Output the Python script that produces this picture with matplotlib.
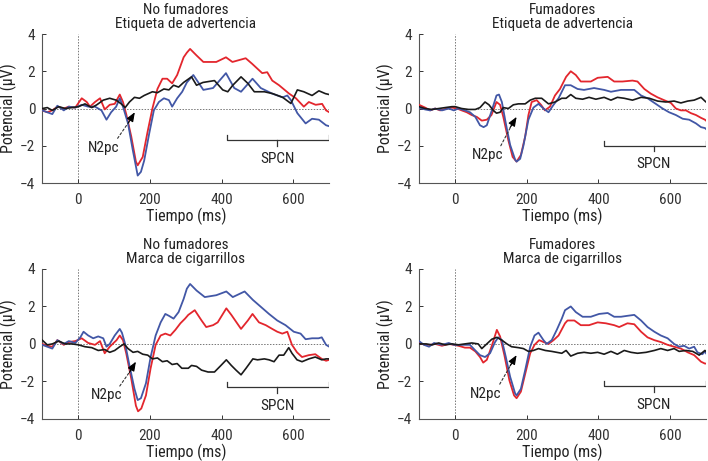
import matplotlib
matplotlib.use('Agg')
import matplotlib.pyplot as plt

plt.rcParams['font.family'] = ['Roboto Condensed', 'DejaVu Sans']

RED = '#e3262d'
BLUE = '#4257a6'
BLACK = '#1a1a1a'

# --- No fumadores / Etiqueta de advertencia ---
p1_red_t = [-100, -86, -72, -58, -40, -26, -8, 10, 24, 33, 47, 61, 74, 88, 102, 116, 125, 134, 148, 161, 166, 180,
            193, 207, 221, 235, 248, 262, 276, 294, 303, 312, 330, 349, 385, 412, 430, 467, 485, 513, 527, 541, 560,
            588, 607, 629, 643, 662, 680, 691, 700]
p1_red_v = [-0.1, -0.2, -0.1, 0.1, 0, 0.1, 0.05, 0.55, 0.35, 0.1, 0.35, 0.55, -0.05, 0.2, 0.25, 0.75, 0.35, -0.3,
            -1.5, -2.85, -3.05, -2.6, -1.3, 0, 1.05, 1.6, 1.6, 1.35, 1.8, 2.75, 3.0, 3.2, 2.85, 2.5, 2.5, 2.75, 2.5,
            2.7, 2.4, 1.9, 1.95, 1.5, 1.25, 0.8, 0.55, 0.1, 0.35, 0.2, 0.25, -0.1, -0.2]
p1_blue_t = [-100, -86, -72, -58, -40, -26, -8, 10, 28, 47, 65, 79, 92, 106, 116, 125, 139, 152, 166, 175, 184, 198,
             211, 225, 239, 253, 262, 276, 290, 303, 321, 349, 376, 412, 435, 454, 486, 509, 541, 570, 583, 593, 611,
             634, 652, 671, 691, 700]
p1_blue_v = [-0.1, -0.2, -0.3, 0.15, -0.1, 0.1, 0.05, 0.2, 0.1, 0.1, -0.1, -0.6, -0.2, 0.1, 0.55, 0.1, -0.8, -2.2,
             -3.6, -3.4, -2.8, -1.35, -0.1, 0.35, 0.55, 0.45, 0.1, 0.55, 0.9, 1.4, 1.8, 1.0, 1.1, 1.9, 1.1, 0.9, 1.6,
             1.1, 0.8, 0.6, 0.7, 0.45, -0.25, -0.8, -0.55, -0.6, -0.9, -0.95]
p1_black_t = [-100, -86, -72, -54, -36, -17, 1, 19, 38, 52, 70, 88, 106, 120, 131, 143, 157, 171, 184, 207, 221, 239,
              253, 266, 280, 294, 316, 330, 348, 380, 403, 417, 431, 454, 473, 491, 519, 542, 570, 593, 611, 629, 652,
              671, 689, 700]
p1_black_v = [0, 0.05, -0.1, 0.1, 0, 0.05, 0.1, 0.25, 0.05, 0.2, 0.45, 0.55, 0.45, 0.25, 0.05, 0.35, 0.6, 0.55, 0.7,
              0.9, 0.85, 1.05, 1.0, 1.25, 1.15, 1.4, 1.7, 1.25, 1.4, 1.5, 1.0, 0.9, 1.25, 1.7, 1.35, 0.9, 0.9, 0.8,
              0.6, 0.27, 1.0, 0.9, 0.7, 0.95, 0.8, 0.75]

# --- Fumadores / Etiqueta de advertencia ---
p2_red_t = [-100, -83, -69, -55, -41, -22, -8, 6, 19, 33, 47, 61, 75, 89, 102, 116, 126, 135, 149, 161, 172, 184,
            196, 205, 214, 228, 240, 251, 265, 279, 293, 310, 323, 337, 351, 379, 398, 426, 444, 467, 495, 509, 528,
            546, 565, 583, 602, 616, 630, 644, 658, 672, 686, 697, 700]
p2_red_v = [0.2, 0.05, -0.1, 0, -0.1, 0, 0.05, 0, -0.1, -0.2, -0.35, -0.45, -0.65, -0.6, -0.35, 0.35, 0.2, -0.45,
            -1.7, -2.6, -2.85, -2.5, -1.5, -0.35, 0.35, 0.45, 0.2, -0.1, 0.1, 0.7, 1.05, 1.7, 2.0, 1.8, 1.45, 1.45,
            1.65, 1.7, 1.45, 1.45, 1.5, 1.45, 1.05, 0.8, 0.6, 0.45, 0.3, 0, -0.1, -0.1, -0.25, -0.35, -0.5, -0.6,
            -0.65]
p2_blue_t = [-100, -83, -69, -55, -36, -17, -3, 10, 28, 42, 57, 70, 80, 89, 103, 116, 123, 131, 142, 154, 168, 172,
             182, 191, 205, 219, 233, 247, 261, 275, 289, 307, 323, 342, 360, 388, 416, 435, 463, 486, 500, 519, 537,
             560, 579, 597, 616, 635, 653, 672, 686, 697, 700]
p2_blue_v = [0.05, -0.05, -0.1, 0, -0.1, 0, -0.1, 0, -0.1, -0.2, -0.45, -0.9, -1.0, -0.9, -0.1, 0.7, 0.75, 0.35,
             -0.8, -1.95, -2.75, -2.85, -2.7, -2.0, -0.6, 0.05, 0.25, 0, -0.2, 0.2, 0.55, 1.25, 1.25, 1.05, 1.0, 1.1,
             1.0, 0.9, 1.0, 1.0, 1.0, 0.7, 0.55, 0.25, 0, -0.2, -0.35, -0.55, -0.6, -0.8, -1.0, -1.05, -1.1]
p2_black_t = [-100, -83, -64, -45, -27, -8, 1, 19, 38, 57, 70, 84, 95, 107, 116, 126, 135, 149, 163, 177, 196, 210,
              224, 242, 261, 279, 298, 310, 323, 337, 356, 374, 393, 416, 435, 453, 472, 495, 519, 542, 565, 588, 611,
              630, 649, 667, 686, 697, 700]
p2_black_v = [0.1, 0, -0.05, 0, 0.05, 0.1, 0.1, 0, -0.05, -0.05, 0.05, 0.35, 0.2, -0.1, -0.25, -0.2, 0.05, 0, 0.2,
              0.25, 0.25, 0.45, 0.55, 0.55, 0.25, 0.35, 0.55, 0.55, 0.75, 0.55, 0.5, 0.6, 0.5, 0.6, 0.45, 0.6, 0.55,
              0.45, 0.6, 0.55, 0.4, 0.35, 0.4, 0.3, 0.4, 0.45, 0.6, 0.4, 0.35]

# --- No fumadores / Marca de cigarrillos ---
p3_red_t = [-100, -86, -72, -58, -40, -26, -8, 10, 28, 47, 61, 74, 88, 107, 116, 125, 134, 148, 161, 167, 176, 189,
            202, 216, 230, 243, 257, 271, 285, 298, 307, 325, 344, 357, 376, 389, 413, 427, 454, 473, 486, 504, 523,
            541, 555, 569, 583, 596, 610, 624, 643, 661, 679, 691, 700]
p3_red_v = [0, -0.1, -0.15, 0.2, -0.05, 0.1, 0.15, 0.3, 0.05, -0.05, 0.15, -0.5, -0.15, 0.2, 0.45, 0.2, -0.5, -1.85,
            -3.3, -3.6, -3.45, -2.75, -1.3, -0.05, 0.45, 0.55, 0.45, 0.75, 1.1, 1.35, 1.55, 1.8, 1.25, 0.9, 1.0,
            1.15, 1.9, 1.55, 0.8, 1.25, 1.6, 1.15, 1.0, 0.8, 0.65, 0.55, 0.65, -0.05, -0.45, -0.7, -0.6, -0.55,
            -0.8, -0.9, -0.85]
p3_blue_t = [-100, -86, -72, -58, -40, -26, -8, 6, 15, 28, 42, 56, 70, 79, 88, 102, 116, 122, 131, 143, 157, 166, 175,
             189, 202, 216, 230, 243, 253, 266, 280, 294, 303, 312, 330, 353, 385, 413, 431, 464, 487, 514, 532, 555,
             578, 601, 620, 634, 652, 670, 679, 691, 700]
p3_blue_v = [-0.05, -0.15, -0.25, 0.2, 0, 0.15, 0.05, 0.35, 0.65, 0.45, 0.3, 0.4, 0.3, -0.15, 0, 0.45, 0.8, 0.6, 0,
             -1.15, -2.4, -3.0, -2.9, -2.1, -0.7, 0.45, 1.15, 1.6, 1.5, 1.35, 1.7, 2.4, 2.95, 3.2, 2.85, 2.5, 2.6,
             2.8, 2.5, 2.8, 2.35, 1.9, 1.6, 1.25, 1.0, 0.65, 0.55, 0.25, 0.3, 0.3, 0.35, -0.05, -0.15]
p3_black_t = [-100, -86, -72, -54, -36, -17, 1, 19, 38, 56, 74, 88, 102, 116, 128, 139, 153, 166, 180, 194, 207, 221,
              235, 248, 262, 276, 289, 307, 316, 330, 344, 362, 380, 398, 413, 427, 440, 454, 468, 487, 500, 519, 532,
              546, 560, 573, 587, 596, 610, 624, 643, 661, 679, 691, 700]
p3_black_v = [0.2, -0.05, 0, 0.15, 0, 0, -0.05, -0.15, -0.2, -0.35, -0.3, -0.45, -0.35, -0.15, 0, -0.25, -0.45, -0.4,
              -0.55, -0.6, -0.8, -0.75, -0.95, -0.9, -1.1, -1.05, -1.3, -1.3, -1.15, -1.2, -1.4, -1.5, -1.5, -1.15,
              -0.85, -1.15, -1.4, -1.65, -1.3, -0.8, -0.85, -0.8, -0.85, -0.95, -0.6, -0.6, -0.2, -0.5, -0.85, -0.95,
              -0.8, -0.7, -0.85, -0.8, -0.8]

# --- Fumadores / Marca de cigarrillos ---
p4_red_t = [-100, -83, -69, -55, -36, -17, -3, 10, 28, 42, 57, 70, 79, 89, 103, 117, 126, 138, 152, 165, 172, 184,
            196, 210, 222, 235, 247, 261, 275, 289, 307, 314, 333, 351, 374, 398, 421, 444, 458, 481, 500, 519, 537,
            556, 574, 593, 611, 630, 649, 667, 686, 697, 700]
p4_red_v = [0.05, -0.05, -0.05, 0, -0.1, 0, -0.05, -0.1, -0.2, -0.2, -0.4, -0.7, -1.0, -0.85, -0.1, 0.75, 0.4, -0.6,
            -1.95, -2.75, -2.9, -2.55, -1.6, -0.5, -0.05, 0.2, 0.1, 0, 0.2, 0.45, 1.1, 1.25, 1.25, 1.0, 1.0, 1.15,
            1.1, 1.0, 0.9, 1.1, 1.05, 0.65, 0.35, 0.2, 0.1, -0.05, -0.15, -0.25, -0.45, -0.6, -0.95, -1.05, -1.05]
p4_blue_t = [-100, -86, -72, -58, -36, -17, -3, 10, 28, 42, 57, 70, 84, 98, 112, 121, 131, 142, 154, 168, 172, 184,
             196, 210, 222, 233, 247, 256, 270, 284, 298, 307, 323, 337, 356, 379, 402, 426, 444, 463, 481, 500, 519,
             537, 556, 574, 593, 611, 625, 639, 653, 667, 676, 690, 697, 700]
p4_blue_v = [0.15, -0.05, -0.15, 0.05, -0.05, 0.05, -0.05, -0.05, -0.05, -0.05, -0.35, -0.6, -0.7, -0.5, 0.1, 0.35,
             0.2, -0.7, -1.75, -2.65, -2.75, -2.4, -1.4, -0.15, 0.45, 0.6, 0.2, 0, 0.2, 0.75, 1.35, 1.8, 2.0, 1.7,
             1.45, 1.45, 1.6, 1.65, 1.45, 1.45, 1.5, 1.55, 1.25, 0.9, 0.65, 0.45, 0.3, 0, -0.15, -0.1, -0.25, -0.15,
             -0.45, -0.55, -0.4, -0.5]
p4_black_t = [-100, -80, -64, -45, -27, -8, 10, 28, 47, 65, 75, 89, 103, 117, 131, 145, 158, 177, 191, 205, 219, 233,
              252, 270, 284, 298, 310, 323, 342, 360, 379, 398, 416, 435, 453, 472, 491, 509, 533, 556, 574, 593, 611,
              625, 644, 663, 681, 697, 700]
p4_black_v = [0, 0, -0.05, 0.05, -0.05, 0, -0.05, 0, 0.05, 0, -0.25, 0, 0.25, 0.35, 0.2, 0, -0.15, -0.2, -0.25, -0.4,
              -0.35, -0.25, -0.35, -0.4, -0.45, -0.5, -0.35, -0.65, -0.5, -0.45, -0.5, -0.45, -0.55, -0.4, -0.55,
              -0.35, -0.45, -0.5, -0.45, -0.35, -0.25, -0.35, -0.25, -0.4, -0.35, -0.4, -0.6, -0.35, -0.4]

titles = ['No fumadores\nEtiqueta de advertencia', 'Fumadores\nEtiqueta de advertencia',
          'No fumadores\nMarca de cigarrillos', 'Fumadores\nMarca de cigarrillos']
panels = [
    (p1_red_t, p1_red_v, p1_blue_t, p1_blue_v, p1_black_t, p1_black_v),
    (p2_red_t, p2_red_v, p2_blue_t, p2_blue_v, p2_black_t, p2_black_v),
    (p3_red_t, p3_red_v, p3_blue_t, p3_blue_v, p3_black_t, p3_black_v),
    (p4_red_t, p4_red_v, p4_blue_t, p4_blue_v, p4_black_t, p4_black_v),
]
# annotation anchors: N2pc text, arrow tip, SPCN bracket height
n2pc_text = [(72, -2.1), (90, -2.5), (78, -2.75), (87, -2.65)]
n2pc_tip = [(158, -0.2), (172, -0.45), (161, -0.95), (172, -0.6)]
spcn_y = [-1.7, -2.0, -2.3, -2.26]
spcn_start, spcn_mid, spcn_end = 415, 555, 700

fig = plt.figure(figsize=(7.08, 4.61), dpi=100)
boxes = [(0.0597, 0.603, 0.4054, 0.3232), (0.5918, 0.603, 0.4054, 0.3232),
         (0.0597, 0.0915, 0.4054, 0.3250), (0.5918, 0.0915, 0.4054, 0.3250)]

for i, box in enumerate(boxes):
    ax = fig.add_axes(box)
    rt, rv, bt, bv, kt, kv = panels[i]
    ax.axhline(0, color='#777777', lw=0.7, ls=(0, (1.5, 1.5)), zorder=1)
    ax.axvline(0, color='#777777', lw=0.7, ls=(0, (1.5, 1.5)), zorder=1)
    ax.plot(rt, rv, color=RED, lw=1.3, zorder=3)
    ax.plot(bt, bv, color=BLUE, lw=1.3, zorder=3)
    ax.plot(kt, kv, color=BLACK, lw=1.2, zorder=4)

    ax.set_xlim(-100, 700)
    ax.set_ylim(-4, 4)
    ax.set_xticks([0, 200, 400, 600])
    ax.set_yticks([-4, -2, 0, 2, 4])
    ax.tick_params(direction='in', length=3, width=0.7, labelsize=11, colors='#333333')
    ax.tick_params(axis='x', pad=7)
    ax.tick_params(axis='y', pad=5)
    for s in ['top', 'right']:
        ax.spines[s].set_visible(False)
    for s in ['left', 'bottom']:
        ax.spines[s].set_color('#555555')
        ax.spines[s].set_linewidth(0.8)
    ax.set_xlabel('Tiempo (ms)', fontsize=11.5, color='#222222', labelpad=1)
    ax.set_ylabel('Potencial (µV)', fontsize=11.5, color='#222222', labelpad=2)
    ax.set_title(titles[i], fontsize=11, color='#222222', pad=4, linespacing=1.0)

    # N2pc: dashed stem with a small solid head
    tx, ty = n2pc_text[i]
    hx, hy = n2pc_tip[i]
    sx, sy = tx + 38, ty + 0.5
    bx, by = hx - 14, hy - 0.45
    ax.annotate('', xy=(bx, by), xytext=(sx, sy),
                arrowprops=dict(arrowstyle='-', color='#333333', lw=0.8, ls=(0, (2, 2)),
                                shrinkA=0, shrinkB=0))
    ax.annotate('', xy=(hx, hy), xytext=(bx - 4, by - 0.12),
                arrowprops=dict(arrowstyle='-|>,head_length=0.55,head_width=0.22', color='black', lw=0.8,
                                shrinkA=0, shrinkB=0))
    ax.text(tx, ty, 'N2pc', fontsize=11, ha='center', va='center', color='#222222')

    # SPCN bracket
    y = spcn_y[i]
    ax.plot([spcn_start, spcn_start, spcn_end, spcn_end], [y + 0.27, y, y, y + 0.27], color='#333333', lw=0.9)
    ax.plot([spcn_mid, spcn_mid], [y, y - 0.3], color='#333333', lw=0.9)
    ax.text(spcn_mid, y - 1.0, 'SPCN', fontsize=11, ha='center', va='center', color='#222222')

fig.savefig('out.png', dpi=100)
